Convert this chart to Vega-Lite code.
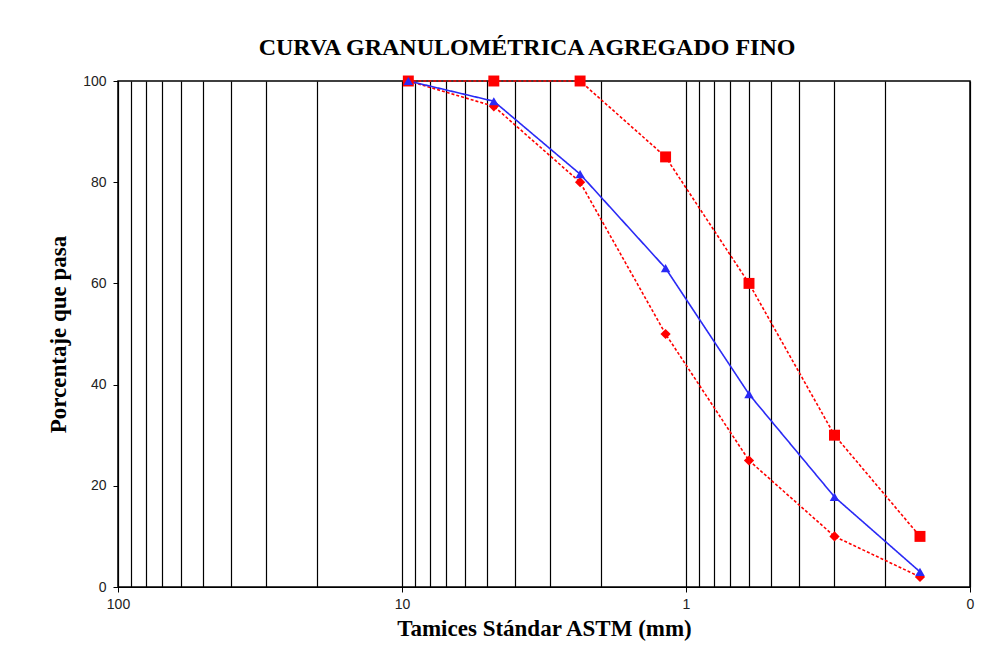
{
  "$schema": "https://vega.github.io/schema/vega-lite/v6.json",
  "width": 852,
  "height": 506,
  "autosize": "none",
  "padding": {"left": 118, "top": 81, "right": 17, "bottom": 61},
  "background": "white",
  "title": {
    "text": "CURVA GRANULOMÉTRICA AGREGADO FINO",
    "font": "Liberation Serif",
    "fontSize": 24,
    "fontWeight": "bold",
    "color": "black",
    "offset": 14,
    "dx": -17
  },
  "config": {
    "view": {"stroke": "black", "strokeWidth": 1.5},
    "axis": {
      "labelFont": "Liberation Sans",
      "labelFontSize": 14,
      "labelColor": "#222",
      "titleFont": "Liberation Serif",
      "titleFontSize": 23,
      "titleFontWeight": "bold",
      "titleColor": "black",
      "domainColor": "black",
      "tickColor": "black"
    }
  },
  "data": {
    "values": [
      {"serie": "Límite superior", "tamiz": 9.5, "pasa": 100},
      {"serie": "Límite superior", "tamiz": 4.75, "pasa": 100},
      {"serie": "Límite superior", "tamiz": 2.36, "pasa": 100},
      {"serie": "Límite superior", "tamiz": 1.18, "pasa": 85},
      {"serie": "Límite superior", "tamiz": 0.6, "pasa": 60},
      {"serie": "Límite superior", "tamiz": 0.3, "pasa": 30},
      {"serie": "Límite superior", "tamiz": 0.15, "pasa": 10},
      {"serie": "Límite inferior", "tamiz": 9.5, "pasa": 100},
      {"serie": "Límite inferior", "tamiz": 4.75, "pasa": 95},
      {"serie": "Límite inferior", "tamiz": 2.36, "pasa": 80},
      {"serie": "Límite inferior", "tamiz": 1.18, "pasa": 50},
      {"serie": "Límite inferior", "tamiz": 0.6, "pasa": 25},
      {"serie": "Límite inferior", "tamiz": 0.3, "pasa": 10},
      {"serie": "Límite inferior", "tamiz": 0.15, "pasa": 2},
      {"serie": "Muestra", "tamiz": 9.5, "pasa": 100},
      {"serie": "Muestra", "tamiz": 4.75, "pasa": 96},
      {"serie": "Muestra", "tamiz": 2.36, "pasa": 81.6},
      {"serie": "Muestra", "tamiz": 1.18, "pasa": 63},
      {"serie": "Muestra", "tamiz": 0.6, "pasa": 38.1},
      {"serie": "Muestra", "tamiz": 0.3, "pasa": 17.8},
      {"serie": "Muestra", "tamiz": 0.15, "pasa": 3}
    ]
  },
  "encoding": {
    "x": {
      "field": "tamiz",
      "type": "quantitative",
      "scale": {"type": "log", "domain": [0.1, 100], "reverse": true, "nice": false},
      "axis": {
        "title": "Tamices Stándar ASTM (mm)",
        "values": [100, 90, 80, 70, 60, 50, 40, 30, 20, 10, 9, 8, 7, 6, 5, 4, 3, 2, 1, 0.9, 0.8, 0.7, 0.6, 0.5, 0.4, 0.3, 0.2, 0.1],
        "labelExpr": "(datum.value == 100 || datum.value == 10 || datum.value == 1) ? datum.label : (datum.value == 0.1 ? '0' : '')",
        "format": "~g",
        "grid": true,
        "gridColor": "black",
        "gridWidth": 1.2,
        "gridOpacity": 1,
        "tickSize": 5,
        "tickOpacity": {"condition": {"test": "datum.value == 100 || datum.value == 10 || datum.value == 1 || datum.value == 0.1", "value": 1}, "value": 0},
        "labelFlush": false,
        "labelPadding": 5,
        "titlePadding": 6
      }
    },
    "y": {
      "field": "pasa",
      "type": "quantitative",
      "scale": {"domain": [0, 100], "nice": false},
      "axis": {
        "title": "Porcentaje que pasa",
        "values": [0, 20, 40, 60, 80, 100],
        "grid": false,
        "tickSize": 5,
        "labelPadding": 7,
        "titlePadding": 12
      }
    },
    "color": {
      "field": "serie",
      "type": "nominal",
      "scale": {"domain": ["Límite superior", "Límite inferior", "Muestra"], "range": ["#FF0000", "#FF0000", "#2A2AF5"]},
      "legend": null
    }
  },
  "layer": [
    {
      "mark": {"type": "line"},
      "encoding": {
        "strokeDash": {
          "field": "serie",
          "type": "nominal",
          "scale": {"domain": ["Límite superior", "Límite inferior", "Muestra"], "range": [[3, 2], [3, 2], [1, 0]]},
          "legend": null
        },
        "strokeWidth": {
          "field": "serie",
          "type": "nominal",
          "scale": {"domain": ["Límite superior", "Límite inferior", "Muestra"], "range": [1.6, 1.6, 2]},
          "legend": null
        }
      }
    },
    {
      "mark": {"type": "point", "filled": true, "opacity": 1},
      "encoding": {
        "shape": {
          "field": "serie",
          "type": "nominal",
          "scale": {"domain": ["Límite superior", "Límite inferior", "Muestra"], "range": ["square", "diamond", "triangle-up"]},
          "legend": null
        },
        "size": {
          "field": "serie",
          "type": "nominal",
          "scale": {"domain": ["Límite superior", "Límite inferior", "Muestra"], "range": [120, 90, 120]},
          "legend": null
        }
      }
    }
  ]
}
